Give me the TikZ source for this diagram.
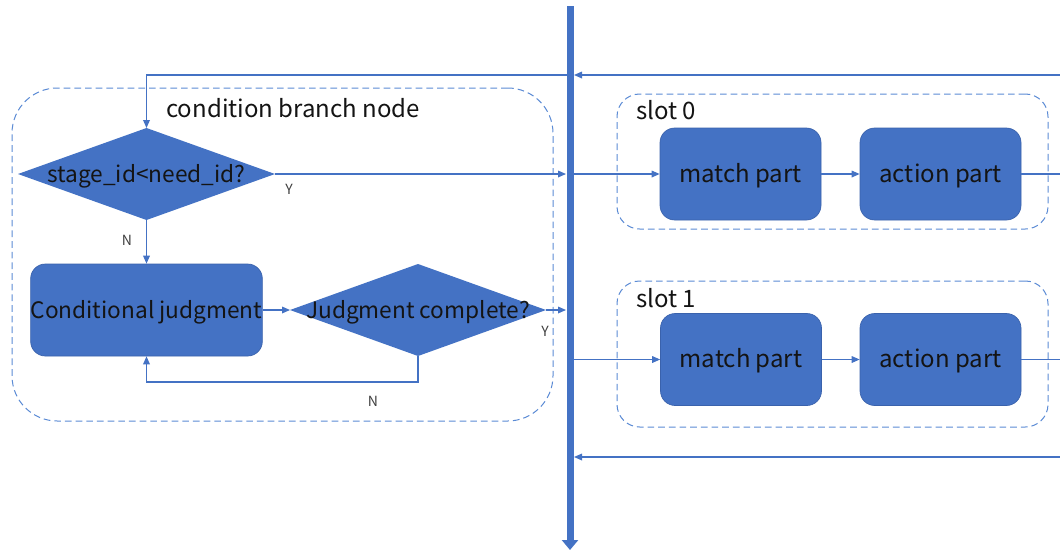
\documentclass[tikz,border=0pt]{standalone}
\usepackage{fontspec}
\setmainfont{Noto Sans CJK SC}
\usetikzlibrary{arrows.meta,shapes.geometric}
\definecolor{ofblue}{HTML}{4472C4}
\definecolor{edgeblue}{HTML}{3A62AC}
\definecolor{dashblue}{HTML}{5B8BD5}
\definecolor{ink}{HTML}{141414}
\definecolor{tag}{HTML}{404040}

\begin{document}
\begin{tikzpicture}[x=0.75pt,y=-0.75pt,
  conn/.style={draw=ofblue,line width=0.9pt},
  arr/.style={conn,-{Triangle[length=6pt,width=5pt]}},
  txt/.style={font=\fontsize{17}{20}\selectfont,text=ink},
  bigtxt/.style={font=\fontsize{18}{21}\selectfont,text=ink},
  lowered/.style={text height=14pt,text depth=2pt},
  stepbox/.style={rectangle,rounded corners=11pt,fill=ofblue,draw=edgeblue,
    line width=0.5pt,minimum width=120.75pt,minimum height=69pt,inner sep=0pt,
    txt,lowered},
  decision/.style={diamond,fill=ofblue,inner sep=0pt,outer sep=0pt,
    minimum height=69pt},
  group/.style={draw=dashblue,dash pattern=on 5pt off 3pt,line width=0.75pt,
    rounded corners=17pt,inner sep=0pt},
  ylab/.style={font=\fontsize{10.5}{12}\selectfont,text=tag,inner sep=0pt},
  title/.style={bigtxt,anchor=west,inner sep=0pt}
]
\useasboundingbox[fill=white] (0,0) rectangle (1060,551);

% dashed groups
\node[group,rounded corners=34pt,minimum width=405.75pt,minimum height=249.75pt]
  (cbn) at (282.5,254.5) {};
\node[group,minimum width=323.25pt,minimum height=101.25pt] (slot0) at (832.5,161.5) {};
\node[group,minimum width=323.25pt,minimum height=109.5pt] (slot1) at (832.5,354) {};

\node[title] (cbnT) at (166,108) {condition branch node};
\node[title] (s0T) at (636,110) {slot 0};
\node[title] (s1T) at (636,298) {slot 1};

% condition branch node
\node[decision,minimum width=192.75pt,
  label={[txt,lowered]center:stage\_id\textless need\_id?}] (d1) at (146.5,174) {};
\node[stepbox,minimum width=173.25pt] (cj) at (146.5,310) {Conditional judgment};
\node[decision,minimum width=192pt,
  label={[txt,lowered]center:Judgment complete?}] (d2) at (418,310) {};

% slots
\node[stepbox,bigtxt] (m0) at (740.5,174) {match part};
\node[stepbox,bigtxt] (a0) at (940.5,174) {action part};
\node[stepbox,bigtxt] (m1) at (741,359.5) {match part};
\node[stepbox,bigtxt] (a1) at (940.5,359.5) {action part};

% bus
\coordinate (busTop) at (570,6);
\coordinate (busEnd) at (570,550);
\draw[ofblue,line width=5.25pt,-{Triangle[length=7.5pt,width=12pt]}] (busTop) -- (busEnd);

\coordinate (inTop) at (1060,75);
\coordinate (busTopR) at (574,75);
\coordinate (busTopL) at (567,75);
\coordinate (busY0L) at (566,174);
\coordinate (busY0R) at (574,174);
\coordinate (busY1L) at (566,310);
\coordinate (busM1R) at (574,359.5);
\coordinate (inBot) at (1060,457);
\coordinate (busBotR) at (574,457);
\coordinate (out0) at (1060,174);
\coordinate (out1) at (1060,359.5);
\coordinate (loopB) at (418,382);

% connectors
\draw[arr] (inTop) -- (busTopR);
\draw[arr] (busTopL) -| (d1.north);
\draw[arr] (d1.east) -- (busY0L);
\draw[arr] (d1.south) -- (cj.north);
\draw[arr] (cj.east) -- (d2.west);
\draw[arr] (d2.east) -- (busY1L);
\draw[arr] (d2.south) -- (loopB) -| (cj.south);
\draw[arr] (busY0R) -- (m0.west);
\draw[arr] (m0.east) -- (a0.west);
\draw[conn] (a0.east) -- (out0);
\draw[arr] (busM1R) -- (m1.west);
\draw[arr] (m1.east) -- (a1.west);
\draw[conn] (a1.east) -- (out1);
\draw[arr] (inBot) -- (busBotR);

% branch labels
\node[ylab] (y0) at (289,189) {Y};
\node[ylab] (n0) at (127,240) {N};
\node[ylab] (y1) at (545,331) {Y};
\node[ylab] (n1) at (373,401) {N};
\end{tikzpicture}
\end{document}
